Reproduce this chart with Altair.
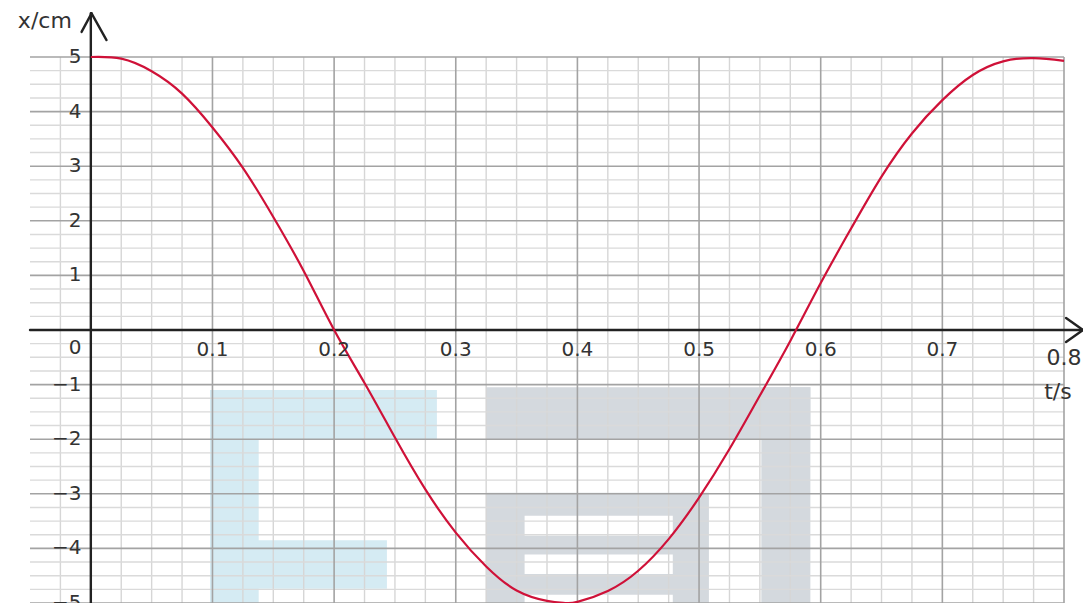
import altair as alt
import pandas as pd

# ---- data ----
T = [0, 0.025, 0.05, 0.075, 0.1, 0.125, 0.15, 0.175, 0.2, 0.225, 0.25, 0.275,
     0.3, 0.325, 0.35, 0.375, 0.39, 0.4, 0.425, 0.45, 0.475, 0.5, 0.525, 0.55,
     0.575, 0.6, 0.625, 0.65, 0.675, 0.7, 0.725, 0.75, 0.775, 0.8]
XCM = [5.0, 4.97, 4.74, 4.33, 3.71, 2.97, 2.07, 1.08, 0.0, -0.97, -1.97, -2.92,
       -3.71, -4.33, -4.77, -4.96, -5.0, -4.98, -4.78, -4.41, -3.83, -3.07, -2.18, -1.2,
       -0.2, 0.86, 1.86, 2.81, 3.6, 4.21, 4.67, 4.92, 4.98, 4.93]

Y_TICK_VALUES = [5, 4, 3, 2, 1, -1, -2, -3, -4, -5]
Y_TICK_TEXT = ["5", "4", "3", "2", "1", "−1", "−2", "−3", "−4", "−5"]
T_TICK_VALUES = [0.1, 0.2, 0.3, 0.4, 0.5, 0.6, 0.7]
T_TICK_TEXT = ["0.1", "0.2", "0.3", "0.4", "0.5", "0.6", "0.7"]

# watermark blocks (t0, t1, x0, x1, colour group)
WM_T0 = [0.098, 0.098, 0.098, 0.3248, 0.5512, 0.3248, 0.3566, 0.3566, 0.3566]
WM_T1 = [0.138, 0.2845, 0.2434, 0.5915, 0.5915, 0.5081, 0.4784, 0.4784, 0.4784]
WM_X0 = [-1.10, -1.10, -3.85, -1.05, -1.05, -2.98, -3.40, -4.11, -4.85]
WM_X1 = [-5.3, -2.00, -4.74, -2.00, -5.3, -5.3, -3.77, -4.47, -5.3]
WM_KIND = ["blue", "blue", "blue", "gray", "gray", "gray", "white", "white", "white"]

# ---- scales ----
xs = alt.Scale(domain=[-0.05, 0.8], nice=False, zero=False)
ys = alt.Scale(domain=[-5, 5], nice=False, zero=False)


def ex(f):
    return alt.X(f, type="quantitative", scale=xs, axis=None)


def ey(f):
    return alt.Y(f, type="quantitative", scale=ys, axis=None)


# watermark
wm = pd.DataFrame({"t0": WM_T0, "t1": WM_T1, "x0": WM_X0, "x1": WM_X1, "k": WM_KIND})
wm_layer = alt.Chart(wm).mark_rect(clip=True).encode(
    x=ex("t0"), x2="t1", y=ey("x0"), y2="x1",
    color=alt.Color("k:N", scale=alt.Scale(domain=["blue", "gray", "white"],
                                           range=["#d5ebf3", "#d4d9de", "#ffffff"]),
                    legend=None),
)

# grid positions
minor_t = [round(-0.05 + 0.025 * i, 3) for i in range(1, 35)]
minor_t = [v for v in minor_t if abs(round(v / 0.1) * 0.1 - v) > 1e-6]
major_t = [round(0.1 * i, 1) for i in range(1, 9)]
minor_y = [round(-5 + 0.25 * i, 2) for i in range(1, 40)]
minor_y = [v for v in minor_y if abs(round(v) - v) > 1e-6]
major_y = [v for v in range(-5, 6) if v != 0]

g_minor_v = alt.Chart(pd.DataFrame({"t": minor_t})).mark_rule(
    color="#d6d6d6", strokeWidth=1.4).encode(x=ex("t"))
g_minor_h = alt.Chart(pd.DataFrame({"y": minor_y})).mark_rule(
    color="#dadada", strokeWidth=1.4).encode(y=ey("y"))
g_major_v = alt.Chart(pd.DataFrame({"t": major_t})).mark_rule(
    color="#a3a3a3", strokeWidth=1.6).encode(x=ex("t"))
g_major_h = alt.Chart(pd.DataFrame({"y": major_y})).mark_rule(
    color="#a3a3a3", strokeWidth=1.6).encode(y=ey("y"))

# axes with arrows
axes = pd.DataFrame({
    "t": [0.0, -0.05, 0.0006, 0.0006, 0.8156, 0.8156],
    "t2": [0.0, 0.8156, -0.0076, 0.0129, 0.8017, 0.8017],
    "x": [-5.2, 0.0, 5.80, 5.80, 0.0, 0.0],
    "x2": [5.80, 0.0, 5.46, 5.31, 0.22, -0.22],
})
axes_layer = alt.Chart(axes).mark_rule(color="#222222", strokeWidth=2.4, strokeCap="round").encode(
    x=ex("t"), x2="t2", y=ey("x"), y2="x2")

# curve
curve = alt.Chart(pd.DataFrame({"t": T, "x": XCM})).mark_line(
    color="#cf1138", strokeWidth=2.2, interpolate="natural").encode(x=ex("t"), y=ey("x"))

font = "DejaVu Sans"
ylab = alt.Chart(pd.DataFrame({"v": Y_TICK_VALUES, "s": Y_TICK_TEXT, "t": [-0.0076] * 10})).mark_text(
    align="right", baseline="middle", fontSize=20, font=font, color="#333333").encode(
    x=ex("t"), y=ey("v"), text="s:N")
zero_lab = alt.Chart(pd.DataFrame({"t": [-0.013], "v": [-0.33], "s": ["0"]})).mark_text(
    align="center", baseline="middle", fontSize=20, font=font, color="#333333").encode(
    x=ex("t"), y=ey("v"), text="s:N")
tlab = alt.Chart(pd.DataFrame({"t": T_TICK_VALUES, "s": T_TICK_TEXT, "v": [-0.37] * 7})).mark_text(
    align="center", baseline="middle", fontSize=20, font=font, color="#333333").encode(
    x=ex("t"), y=ey("v"), text="s:N")
extra = alt.Chart(pd.DataFrame({
    "t": [0.8, 0.795, -0.0378],
    "v": [-0.52, -1.14, 5.66],
    "s": ["0.8", "t/s", "x/cm"],
})).mark_text(align="center", baseline="middle", fontSize=22, font=font, color="#333333").encode(
    x=ex("t"), y=ey("v"), text="s:N")

chart = alt.layer(
    wm_layer, g_minor_v, g_minor_h, g_major_v, g_major_h, axes_layer, curve,
    ylab, zero_lab, tlab, extra,
).properties(
    width=1034, height=546,
    padding={"left": 22, "top": 49, "right": 19, "bottom": 0},
    autosize=alt.AutoSizeParams(type="none"),
    background="#ffffff",
).configure_view(stroke=None)

chart.save("out.html", embed_options={"renderer": "svg", "actions": False})
